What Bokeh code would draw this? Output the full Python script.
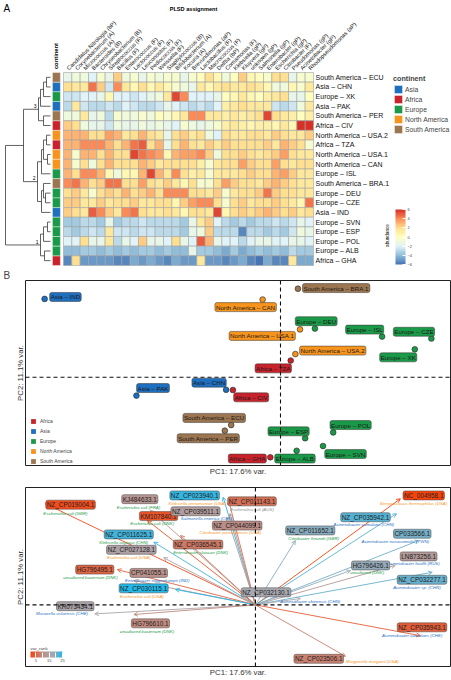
import numpy as np
from bokeh.plotting import figure
from bokeh.models import (Range1d, ColumnDataSource, LinearColorMapper, ColorBar, FixedTicker,
                          Legend, LegendItem, Span, Title, Arrow, OpenHead)
from bokeh.core.properties import value, field
from bokeh.embed import file_html
from bokeh.resources import INLINE

FONT = "Liberation Sans"

# ---------------- data: heatmap ----------------
row_labels = ["South America – ECU", "Asia – CHN", "Europe – XK", "Asia – PAK", "South America – PER",
              "Africa – CIV", "North America – USA.2", "Africa – TZA", "North America – USA.1",
              "North America – CAN", "Europe – ISL", "South America – BRA.1", "Europe – DEU",
              "Europe – CZE", "Asia – IND", "Europe – SVN", "Europe – ESP", "Europe – POL",
              "Europe – ALB", "Africa – GHA"]
row_continents = ["South America", "Asia", "Europe", "Asia", "South America", "Africa", "North America",
                  "Africa", "North America", "North America", "Europe", "South America", "Europe",
                  "Europe", "Asia", "Europe", "Europe", "Europe", "Europe", "Africa"]
col_labels = ["Candidatus Nitrologia (bP)", "Corynebacterium (A)", "Micrococcus (A)", "Bacteroides (B)",
              "Chryseobacterium (B)", "Streptococcus (F)", "Bacillus (F)", "Enterococcus (F)",
              "Lactococcus (F)", "Leuconostoc (F)", "Pediococcus (F)", "Weissella (F)",
              "Staphylococcus (B)", "Bifidobacterium (A)", "Kocuria (A)", "Brevundimonas (aP)",
              "Lactobacillus (F)", "Macrococcus (F)", "Delftia (bP)", "Comamonas (F)",
              "Klebsiella (gP)", "Kluyvera (gP)", "unknown (gP)", "Salmonella (gP)",
              "Enterobacter (gP)", "Escherichia (gP)", "Citrobacter (F)", "Pseudomonas (gP)",
              "Acinetobacter (gP)", "Rhodopseudomonas (aP)"]
abundance = [
    [-1.5,-1,-1,-2,-0.5,-1.5,2.5,-1,-0.5,-1.5,-0.5,-1,-0.5,-0.5,-1.5,-0.5,0,2,0.5,-1,0,2.5,0.5,0,-0.5,2,2,-1.5,-0.5,-0.5],
    [2,1.5,1.5,4.5,2.5,-2.5,4,1.5,0.5,2,0.5,1.5,0.5,-0.5,-1,-1.5,1.5,0.5,1.5,2,1.5,1.5,2,1.5,0.5,-1,-1,0.5,-0.5,1.5],
    [-2.5,-2.5,-2,-2,-1.5,0.5,-2,-2,-2.5,-2,-1.5,-1,1.5,5.5,4,-2,-2,-2,-1.5,0,0.5,1.5,0.5,0,1,1.5,2,-1.5,-1.5,0],
    [-3,1.5,-2.5,-3,-3,-2.5,-3,-2,-2.5,-3,-3,-2.5,-1.5,-2,-2.5,-3,-2.5,-3,-2,1,1.5,2,1.5,1.5,1.5,-2.5,-3,-2.5,-1,1.5],
    [-1,-1,1.5,-1.5,-1,-3,-0.5,-1,-1,-0.5,-1,0,-0.5,0.5,1.5,4,4,1.5,1.5,1,1.5,1,1.5,2,5.5,2,1.5,1,0,1],
    [2.5,2,-1,-1.5,-1.5,-2.5,-1,-1.5,-1.5,-1,-1.5,-1,-1.5,-2,-0.5,-1,-1.5,-1,-0.5,1,1.5,1,0.5,1,1,0.5,1.5,0.5,6,6],
    [3,3,3,2,2,3.5,3,1.5,2,3,2,1.5,-1.5,2,2.5,1.5,2,-1,-2,2,1.5,1.5,2,2,1.5,2.5,2,1.5,1.5,2.5],
    [3,3,4,4,4,3,2,3,4.5,5,2,3,-1.5,2,3,2,1.5,2.5,1.5,2.5,2,2,2,2,2.5,1.5,3,2.5,2,-0.5],
    [3,-0.5,3,3,2,3,2,2,5.5,4.5,4,3.5,0.5,3,3.5,3.5,4,2.5,-1,2,2,2.5,2,1.5,2,2.5,3.5,2,1.5,1.5],
    [3,-0.5,2,-1,2,3,2,2,2,3,2.5,1.5,2,2,2,2,1,-0.5,1.5,2,2,3.5,2.5,2,2,3.5,2,1.5,2,2],
    [3,2,4,4,3,0.5,-1,0.5,0.5,3,5.5,3,1.5,4,2,1,1.5,-0.5,1.5,1.5,1.5,2,2.5,2,2,3,3.5,2.5,1.5,1.5],
    [4,4.5,3,2,2.5,4.5,4.5,2,2,3.5,2,1.5,2.5,1.5,0.5,2,-0.5,-0.5,2,3.5,2.5,2,2,1.5,2.5,3,2.5,2,1.5,1.5],
    [2,2.5,1.5,-0.5,2,2.5,2,3,2,2.5,3,2,4,4,4,2,2,1.5,2.5,-0.5,1.5,2,2,2.5,4.5,2.5,2,2,1.5,1.5],
    [2.5,2.5,1.5,1.5,2.5,1.5,2,2,2.5,1.5,1.5,2,2,0.5,2.5,3.5,4,4,2,-0.5,2,2.5,1.5,2,2,2.5,2,1.5,0.5,4.5],
    [2.5,2,1.5,5,4,2.5,1.5,4,4.5,2,1.5,1.5,2,1.5,0.5,2,2,1.5,5.5,0.5,2,2.5,2,2.5,3,2.5,2,2.5,1.5,2],
    [-3.5,-3.5,-3,-3,-3.5,-1.5,-3.5,-3,-3,-2.5,-3,-3,-3,-3,-3.5,-1.5,1.5,2.5,-2,-3,-3.5,-3,-3.5,-3,-3,-2.5,-3,-2.5,-1.5,-2],
    [-3,-3.5,-3,-2.5,-3,1.5,-2.5,-2.5,-3,-2.5,-2.5,-3,-3,-3,-3.5,-1.5,-1,2.5,-3,-3,-3,-5.5,-3,-3,-3.5,-3,-3.5,-2.5,-1,-1.5],
    [-2,-2,2,-1.5,-1.5,1.5,-3,-1.5,-2,2.5,-1.5,-1.5,-2,2,-1.5,-2,5,3,-1.5,-2,-2,-3,-2,-1.5,-1.5,-2,-2,-1.5,-1.5,-2],
    [-4,-4,-3.5,-3.5,-4,-3.5,-4,-3.5,-4,-3.5,-3.5,-4,-3.5,-4,-4,-1.5,-3.5,-3.5,-4,-4.5,-3.5,-4.5,-4,-3.5,-4,-3.5,-4,-3,-3.5,-3.5],
    [-5.5,2,-5,-5,-5,-5,-5.5,-5.5,-4.5,-5,-4.5,-5,-5.5,-4.5,-5,-5,1.5,-5,-5,-5.5,-5,-4.5,-5.5,-6,-4.5,-5.5,-5.5,1.5,-4.5,-4.5],
]
# dendrogram merges: (left, right, height); ids >= 20 refer to earlier merges
merges = [(0, 1, 4), (20, 2, 7), (21, 3, 10), (4, 5, 7), (22, 23, 12),
          (6, 7, 4), (8, 9, 3), (25, 26, 7), (27, 10, 9), (12, 13, 5), (11, 29, 7), (30, 14, 9),
          (28, 31, 13), (15, 16, 3), (33, 17, 7), (18, 19, 6), (34, 35, 10), (24, 32, 27), (37, 36, 45)]
cluster_nodes = [24, 32, 36]
cluster_names = ["3", "2", "1"]

heat_legend_order = ["Asia", "Africa", "Europe", "North America", "South America"]
pca_legend_order = ["Africa", "Asia", "Europe", "North America", "South America"]
continent_colors = {"Asia": "#1f6fbf", "Africa": "#c8232c", "Europe": "#1a9a48",
                    "North America": "#f7941d", "South America": "#9c7650", "Other": "#8c8c8c"}

# ---------------- data: PCA scores ----------------
samples = ["Asia – IND", "South America – BRA.1", "North America – CAN", "Europe – DEU",
           "North America – USA.1", "Europe – ISL", "Europe – CZE", "Europe – XK",
           "North America – USA.2", "Africa – TZA", "Asia – CHN", "Africa – CIV", "Asia – PAK",
           "South America – ECU", "South America – PER", "Europe – ESP", "Europe – POL",
           "Europe – SVN", "Europe – ALB", "Africa – GHA"]
sample_continent = ["Asia", "South America", "North America", "Europe", "North America", "Europe",
                    "Europe", "Europe", "North America", "Africa", "Asia", "Africa", "Asia",
                    "South America", "South America", "Europe", "Europe", "Europe", "Europe", "Africa"]
pc1 = [-5.55, 0.41, -0.42, 0.81, 0.46, 2.39, 3.55, 3.16, 0.35, 0.24, -1.28, -1.12, -3.39,
       -1.16, -1.31, 0.58, 1.24, 1.0, 0.38, -0.24]
pc2 = [3.62, 4.09, 3.59, 2.25, 2.21, 1.88, 1.79, 1.29, 1.07, 0.77, -0.58, -0.59, -0.85,
       -2.21, -2.47, -2.82, -2.55, -3.18, -3.40, -3.70]
label_pc1 = [-5.06, 1.31, -0.82, 0.84, -0.43, 1.98, 3.14, 2.77, 1.23, -0.17, -1.68, -0.69, -3.0,
             -1.56, -1.70, 0.19, 1.65, 1.53, 0.34, -0.78]
label_pc2 = [3.71, 4.12, 3.24, 2.59, 1.91, 2.20, 2.10, 0.92, 1.23, 0.41, -0.25, -0.93, -0.5,
             -1.88, -2.82, -2.50, -2.21, -3.55, -3.76, -3.76]

# ---------------- data: loadings ----------------
load_ids = ["NZ_CP019004.1", "KJ484633.1", "NZ_CP023940.1", "NZ_CP011143.1", "KM107840.1",
            "NZ_CP039511.1", "NZ_CP044099.1", "NZ_CP011625.1", "NZ_CP036545.1", "NZ_CP027128.1",
            "HG796495.1", "CP041055.1", "NZ_CP030115.1", "NZ_CP011652.1", "NC_004958.1",
            "NZ_CP035942.1", "CP033566.1", "LN873256.1", "HG796426.1", "NZ_CP032277.1",
            "NZ_CP032130.1", "KR073434.1", "HG796610.1", "NZ_CP035943.1", "NZ_CP023506.1"]
load_species = ["Escherichia coli (GBR)", "Escherichia coli (FRA)", "Klebsiella pneumoniae (USA)",
                "Escherichia coli (AUS)", "Escherichia coli (DNK)", "Salmonella enterica (CHN)",
                "Citrobacter portucalensis (USA)", "Klebsiella oxytoca (CHN)",
                "Enterobacter cloacae (DNK)", "Escherichia coli (USA)", "uncultured bacterium (DNK)",
                "Enterobacter roggenkampii (IND)", "Escherichia coli (USA)", "Citrobacter freundii (GBR)",
                "Streptococcus thermophilus (USA)", "Acinetobacter cumulans (CHN)",
                "Acinetobacter nosocomialis (TWN)", "Acinetobacter lwoffii (RUS)", "uncultured (DNK)",
                "Acinetobacter sp. (CHN)", "Acinetobacter chinensis (CHN)", "Moraxella osloensis (CHE)",
                "uncultured bacterium (DNK)", "Acinetobacter cumulans (CHE)", "Morganella morganii (USA)"]
load_region = ["Europe", "Europe", "North America", "Other", "Europe", "Asia", "North America",
               "Europe", "Europe", "North America", "Europe", "Asia", "North America", "Europe",
               "North America", "Asia", "Asia", "Asia", "Europe", "Asia", "Asia", "Asia", "Europe",
               "Asia", "North America"]
var_rank = [2, 12, 24, 6, 3, 14, 10, 23, 7, 15, 5, 11, 25, 19, 1, 22, 20, 13, 18, 21, 17, 16, 9, 4, 8]
load_pc1 = [-4.94, -2.47, -0.76, -0.63, -2.54, -0.67, -0.60, -2.39, -1.76, -2.16, -3.25, -2.86, -1.88,
            0.94, 3.41, 3.32, 3.84, 3.29, 2.24, 4.16, 1.06, -3.78, -2.86, 3.88, 2.12]
load_pc2 = [4.59, 4.29, 4.89, 4.74, 3.83, 3.98, 4.15, 2.85, 3.15, 2.14, 1.60, 1.10, 0.70,
            2.92, 4.82, 4.14, 2.92, 1.79, 1.56, 1.48, 0.29, -0.41, -0.44, -1.40, -2.34]
id_pc1 = [-4.35, -2.72, -1.43, -0.08, -2.28, -1.41, -0.43, -2.98, -1.35, -2.92, -3.78, -2.51, -2.63,
          1.29, 3.96, 2.59, 3.69, 3.84, 2.71, 3.92, 0.25, -4.24, -2.47, 3.92, 1.49]
id_pc2 = [4.55, 4.80, 4.97, 4.70, 4.03, 4.25, 3.60, 3.20, 2.74, 2.50, 1.60, 1.45, 0.75,
          3.38, 4.97, 3.98, 3.23, 2.20, 1.79, 1.14, 0.57, -0.06, -0.84, -1.02, -2.45]
sp_pc1 = [-4.47, -2.75, -1.37, -0.08, -2.43, -1.14, -0.59, -3.10, -1.29, -2.98, -3.88, -2.31, -2.67,
          1.37, 3.72, 2.55, 3.29, 3.72, 2.63, 3.80, 1.29, -4.55, -2.55, 3.69, 2.75]
sp_pc2 = [4.16, 4.41, 4.59, 4.33, 3.68, 3.94, 3.27, 2.85, 2.39, 2.14, 1.23, 1.10, 0.38,
          3.00, 4.59, 3.64, 2.89, 1.86, 1.47, 0.80, 0.15, -0.41, -1.21, -1.40, -2.58]


def interp_palette(stops, n):
    rgb = np.array([[int(c[i:i + 2], 16) for i in (1, 3, 5)] for c in stops], dtype=float)
    pos = np.linspace(0, 1, len(stops))
    t = np.linspace(0, 1, n)
    out = []
    for tt in t:
        r = [np.interp(tt, pos, rgb[:, k]) for k in range(3)]
        out.append("#%02x%02x%02x" % tuple(int(round(v)) for v in r))
    return out


heat_palette = interp_palette(["#4575b4", "#91bfdb", "#e0f3f8", "#ffffbf", "#fee090", "#fc8d59", "#d73027"], 100)
rank_palette = interp_palette(["#f8420c", "#c08a80", "#a8a8b0", "#22b8e8"], 64)


def rank_color(r):
    return rank_palette[int(round((r - 1) / 24 * (len(rank_palette) - 1)))]


def style_axes(p, xlabel, ylabel):
    p.grid.visible = False
    for ax, lab in ((p.xaxis[0], xlabel), (p.yaxis[0], ylabel)):
        ax.ticker = FixedTicker(ticks=[])
        ax.axis_line_color = None
        ax.major_tick_out = 0
        ax.major_tick_in = 0
        ax.minor_tick_out = 0
        ax.minor_tick_in = 0
        ax.major_label_standoff = 0
        ax.axis_label = lab
        ax.axis_label_text_font = FONT
        ax.axis_label_text_font_size = "7.8px"
        ax.axis_label_text_font_style = "normal"
        ax.axis_label_text_color = "#333333"
        ax.axis_label_standoff = 1
    p.outline_line_color = "#222222"
    p.outline_line_width = 1
    p.outline_line_alpha = 1


# ================= Figure A: heatmap =================
nr, nc = len(row_labels), len(col_labels)
pa = figure(width=451, height=267, x_range=Range1d(-7.56, 46.56), y_range=Range1d(20.21, -7.46),
            output_backend="svg", toolbar_location=None, min_border=0,
            x_axis_location=None, y_axis_location=None, title=None)
pa.grid.visible = False
pa.outline_line_color = None

hx, hy, hv = [], [], []
for i in range(nr):
    for j in range(nc):
        hx.append(j + 0.5)
        hy.append(i + 0.5)
        hv.append(abundance[i][j])
heat_src = ColumnDataSource(dict(x=hx, y=hy, v=hv))
heat_mapper = LinearColorMapper(palette=heat_palette, low=-6, high=6)
pa.rect(x="x", y="y", width=1, height=1, source=heat_src,
        fill_color={"field": "v", "transform": heat_mapper}, line_color="#a3a3a3", line_width=0.6)

# continent annotation column
items = []
for cont in heat_legend_order:
    ys = [i + 0.5 for i in range(nr) if row_continents[i] == cont]
    r = pa.rect(x=[-0.85] * len(ys), y=ys, width=0.95, height=1, fill_color=continent_colors[cont],
                line_color="white", line_width=0.4)
    items.append(LegendItem(label=cont, renderers=[r]))
leg = Legend(items=items, location=(393, 133), title="continent", padding=0, margin=0, spacing=0,
             glyph_width=10, glyph_height=10, label_height=10, label_standoff=2,
             label_text_font=FONT, label_text_font_size="6.8px", title_text_font=FONT,
             title_text_font_size="7.2px", title_text_font_style="bold", title_standoff=1,
             border_line_color=None, background_fill_alpha=0)
pa.add_layout(leg)

# row labels
pa.text(x=[30.25] * nr, y=[i + 0.5 for i in range(nr)], text=row_labels, text_font=value(FONT),
        text_font_size="7px", text_align="left", text_baseline="middle", text_color="#111111")
# column labels
pa.text(x=[j + 0.5 for j in range(nc)], y=[-0.35] * nc, text=col_labels, text_font=value(FONT),
        text_font_size="5.7px", text_align="left", text_baseline="middle", angle=np.pi / 4,
        text_color="#111111")
pa.text(x=[15.6], y=[-6.6], text=["PLSD assignment"], text_font=value(FONT), text_font_size="5.6px",
        text_font_style="bold", text_align="center", text_baseline="middle")
pa.text(x=[-0.85], y=[-0.35], text=["continent"], text_font=value(FONT), text_font_size="5.8px",
        text_font_style="bold", text_align="left", text_baseline="middle", angle=np.pi / 2)
pa.text(x=[-7.2], y=[-7.2], text=["A"], text_font=value(FONT), text_font_size="10px",
        text_align="left", text_baseline="top")

# dendrogram
pa.extra_x_ranges = {"dend": Range1d(start=50, end=-401)}
node_y = {i: i + 0.5 for i in range(nr)}
node_h = {i: 0.0 for i in range(nr)}
dxs, dys = [], []
for k, (a, b, h) in enumerate(merges):
    ya, yb = node_y[a], node_y[b]
    dxs.append([node_h[a], h, h, node_h[b]])
    dys.append([ya, ya, yb, yb])
    node_y[nr + k] = (ya + yb) / 2
    node_h[nr + k] = h
pa.multi_line(dxs, dys, x_range_name="dend", line_color="#3a3a3a", line_width=0.8)
pa.text(x=[node_h[c] + 2 for c in cluster_nodes], y=[node_y[c] - 0.15 for c in cluster_nodes],
        text=cluster_names, x_range_name="dend", text_font=value(FONT), text_font_size="5px",
        text_align="right", text_baseline="bottom")

# colour bar
cb = ColorBar(color_mapper=heat_mapper, ticker=FixedTicker(ticks=[-6, -4, -2, 0, 2, 4, 6]),
              width=10, height=55, location=(395, 3), padding=0, margin=0, label_standoff=2,
              major_label_text_font=FONT, major_label_text_font_size="4px",
              major_tick_line_color="white", major_tick_out=0, major_tick_in=3,
              bar_line_color=None, background_fill_alpha=0)
pa.add_layout(cb)
pa.text(x=[39.2], y=[16.9], text=["abundance"], text_font=value(FONT), text_font_size="4.6px",
        text_align="center", text_baseline="bottom", angle=np.pi / 2)

# ================= Figure B1: PCA scores =================
pb = figure(width=451, height=211, x_range=Range1d(-6, 4), y_range=Range1d(-4.08, 4.47),
            output_backend="svg", toolbar_location=None, min_border_left=25, min_border_right=1,
            min_border_top=12, min_border_bottom=11, title=None)
pb.add_layout(Title(text="B", align="left", offset=-22, standoff=0, text_font=FONT,
                    text_font_size="10px", text_font_style="normal"), "above")
style_axes(pb, "PC1: 17.6% var.", "PC2: 11.1% var.")
pb.add_layout(Span(location=0, dimension="height", line_dash="4 3", line_width=1.1, line_color="#111111"))
pb.add_layout(Span(location=0, dimension="width", line_dash="4 3", line_width=1.1, line_color="#111111"))
sc_src = ColumnDataSource(dict(x=pc1, y=pc2, lx=label_pc1, ly=label_pc2, name=samples,
                               col=[continent_colors[c] for c in sample_continent]))
litems = []
for cont in pca_legend_order:
    xs = [pc1[i] for i in range(len(samples)) if sample_continent[i] == cont]
    ys = [pc2[i] for i in range(len(samples)) if sample_continent[i] == cont]
    r = pb.rect(x=xs, y=ys, width=0, height=0, fill_color=continent_colors[cont], line_color=None)
    litems.append(LegendItem(label=cont, renderers=[r]))
pb.scatter(x="x", y="y", source=sc_src, size=5.7, fill_color="col", line_color="#222222", line_width=0.6)
pb.text(x="lx", y="ly", text="name", source=sc_src, text_font=value(FONT), text_font_size="6.2px",
        text_align="center", text_baseline="middle", text_color="#1a1a1a",
        background_fill_color=field("col"), border_line_color="#333333", border_line_width=0.5,
        padding=1, border_radius=2)
leg2 = Legend(items=litems, location=(5, 1), padding=0, margin=0, spacing=4, glyph_width=6, glyph_height=6,
              label_height=6, label_standoff=4, label_text_font=FONT, label_text_font_size="5px",
              border_line_color=None, background_fill_alpha=0)
pb.add_layout(leg2)

# ================= Figure B2: loadings =================
pc = figure(width=451, height=202, x_range=Range1d(-5.41, 4.59), y_range=Range1d(-2.80, 5.33),
            output_backend="svg", toolbar_location=None, min_border_left=25, min_border_right=1,
            min_border_top=9, min_border_bottom=14, title=None)
style_axes(pc, "PC1: 17.6% var.", "PC2: 11.1% var.")
pc.add_layout(Span(location=0, dimension="height", line_dash="4 3", line_width=1.1, line_color="#111111"))
pc.add_layout(Span(location=0, dimension="width", line_dash="4 3", line_width=1.1, line_color="#111111"))
lcols = [rank_color(r) for r in var_rank]
ld_src = ColumnDataSource(dict(x0=[0.0] * len(load_ids), y0=[0.0] * len(load_ids), x1=load_pc1, y1=load_pc2,
                               col=lcols, ix=id_pc1, iy=id_pc2, sx=sp_pc1, sy=sp_pc2, lid=load_ids,
                               sp=load_species, scol=[continent_colors[c] for c in load_region]))
arr = Arrow(end=OpenHead(size=4, line_color=field("col"), line_width=0.9), x_start="x0", y_start="y0",
            x_end="x1", y_end="y1", source=ld_src, line_color=field("col"), line_width=0.9, level="underlay")
pc.add_layout(arr)
pc.text(x="sx", y="sy", text="sp", source=ld_src, text_font=value(FONT), text_font_size="4.4px",
        text_font_style="italic", text_align="center", text_baseline="middle", text_color=field("scol"))
pc.text(x="ix", y="iy", text="lid", source=ld_src, text_font=value(FONT), text_font_size="6.4px",
        text_align="center", text_baseline="middle", text_color="#222222",
        background_fill_color=field("col"), border_line_color="#444444", border_line_width=0.5,
        padding=1, border_radius=2)
rank_mapper = LinearColorMapper(palette=rank_palette, low=1, high=25)
cb2 = ColorBar(color_mapper=rank_mapper, orientation="horizontal", location=(5, 2), width=32, height=6,
               ticker=FixedTicker(ticks=[5, 10, 15, 20, 25]), title="var_rank", title_text_font=FONT,
               title_text_font_size="4.4px", title_text_font_style="normal", title_standoff=2,
               major_label_text_font=FONT, major_label_text_font_size="4px", label_standoff=1,
               padding=0, margin=0, major_tick_line_color="white", bar_line_color=None,
               background_fill_alpha=0)
pc.add_layout(cb2)

open("out.html", "w").write(file_html([pa, pb, pc], INLINE))
